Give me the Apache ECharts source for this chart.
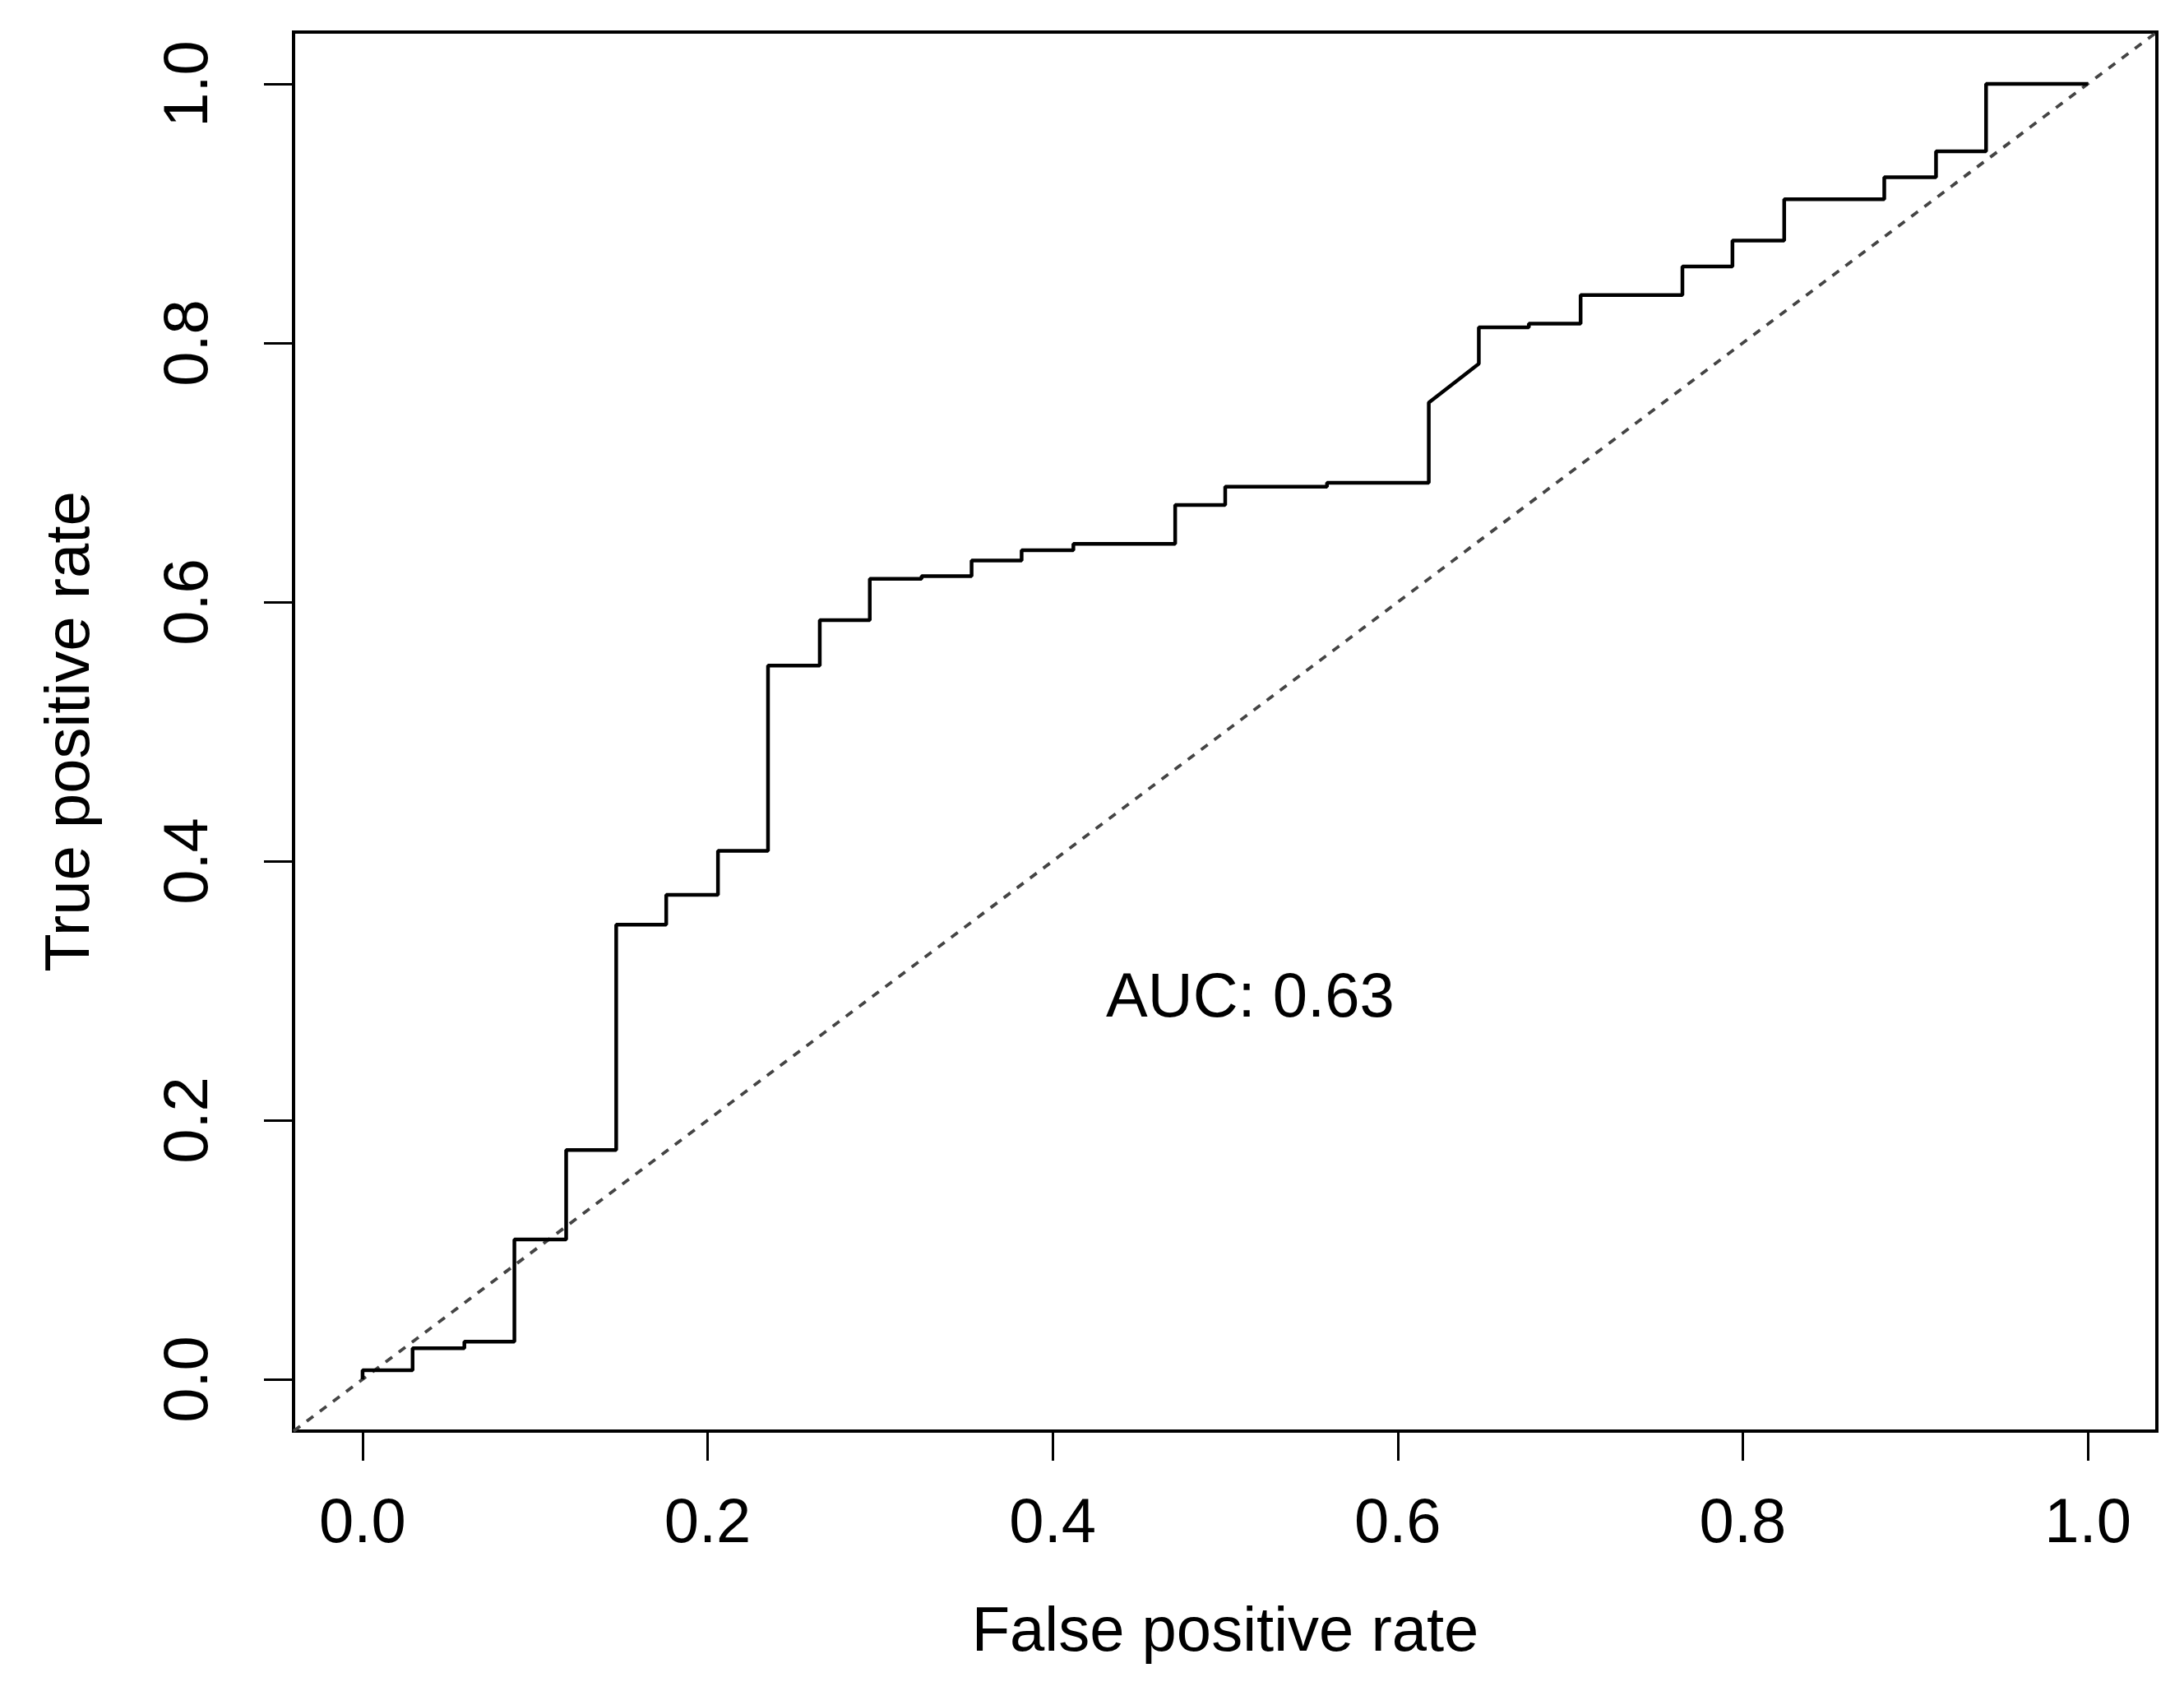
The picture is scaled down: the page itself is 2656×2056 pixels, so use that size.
<!DOCTYPE html>
<html>
<head>
<meta charset="utf-8">
<script src="https://cdn.jsdelivr.net/npm/echarts@6/dist/echarts.min.js"></script>
<style>
html,body{margin:0;padding:0;background:#fff;}
#chart{width:2656px;height:2056px;}
</style>
</head>
<body>
<div id="chart"></div>
<script>
// ROC curve vertices (false positive rate, true positive rate)
const fpr = [0, 0, 0.029, 0.029, 0.059, 0.059, 0.088, 0.088, 0.118, 0.118,
  0.147, 0.147, 0.176, 0.176, 0.206, 0.206, 0.235, 0.235, 0.265, 0.265,
  0.294, 0.294, 0.324, 0.324, 0.353, 0.353, 0.382, 0.382, 0.412, 0.412,
  0.471, 0.471, 0.5, 0.5, 0.559, 0.559, 0.618, 0.618, 0.647, 0.647,
  0.676, 0.676, 0.706, 0.706, 0.765, 0.765, 0.794, 0.794, 0.824, 0.824,
  0.882, 0.882, 0.912, 0.912, 0.941, 0.941, 1.0];
const tpr = [0, 0.007, 0.007, 0.024, 0.024, 0.029, 0.029, 0.108, 0.108, 0.177,
  0.177, 0.351, 0.351, 0.374, 0.374, 0.408, 0.408, 0.551, 0.551, 0.586,
  0.586, 0.618, 0.618, 0.620, 0.620, 0.632, 0.632, 0.640, 0.640, 0.645,
  0.645, 0.675, 0.675, 0.689, 0.689, 0.692, 0.692, 0.754, 0.784, 0.812,
  0.812, 0.815, 0.815, 0.837, 0.837, 0.859, 0.859, 0.879, 0.879, 0.911,
  0.911, 0.928, 0.928, 0.948, 0.948, 1.0, 1.0];
// chance line y = x across the plotting region
const diagX = [-0.04, 1.04];
const diagY = [-0.04, 1.04];
const tickValues = [0, 0.2, 0.4, 0.6, 0.8, 1.0];
const axisRange = [-0.04, 1.04];
const xTitle = 'False positive rate';
const yTitle = 'True positive rate';
const aucText = 'AUC: 0.63';
const aucPos = [0.5145, 0.2935];

const FONT = '"Liberation Sans", Arial, Helvetica, sans-serif';
const chart = echarts.init(document.getElementById('chart'), null, {renderer: 'canvas'});

const rocData = fpr.map((x, i) => [x, tpr[i]]);
const diagData = diagX.map((x, i) => [x, diagY[i]]);

function axisCommon(name, gap, isY) {
  return {
    type: 'value',
    min: axisRange[0],
    max: axisRange[1],
    name: name,
    nameLocation: 'middle',
    nameGap: gap,
    nameTextStyle: {fontFamily: FONT, fontSize: 76, color: '#000'},
    splitLine: {show: false},
    axisLine: {show: true, onZero: false, lineStyle: {color: '#000', width: 4}},
    axisTick: {show: true, inside: false, length: 36, customValues: tickValues,
      lineStyle: {color: '#000', width: 3}},
    axisLabel: {show: true, customValues: tickValues, rotate: isY ? 90 : 0,
      margin: isY ? 88 : 76,
      fontFamily: FONT, fontSize: 76, color: '#000',
      formatter: v => Number(v).toFixed(1)}
  };
}

chart.setOption({
  animation: false,
  backgroundColor: '#fff',
  grid: {left: 357, top: 39, width: 2266, height: 1701, show: true,
    borderColor: '#000', borderWidth: 4, backgroundColor: 'transparent'},
  xAxis: axisCommon(xTitle, 208, false),
  yAxis: axisCommon(yTitle, 232, true),
  series: [
    {
      type: 'line', data: diagData, symbol: 'none', silent: true,
      lineStyle: {color: '#444', width: 3.8, type: [10, 10]}
    },
    {
      type: 'line', data: rocData, symbol: 'none', silent: true,
      lineStyle: {color: '#000', width: 4.5}
    },
    {
      type: 'scatter', data: [aucPos], symbolSize: 0, silent: true,
      itemStyle: {opacity: 1, color: '#000'},
      label: {show: true, position: 'inside', formatter: aucText, opacity: 1,
        fontFamily: FONT, fontSize: 76, color: '#000',
        textBorderWidth: 0}
    }
  ]
});
</script>
</body>
</html>
